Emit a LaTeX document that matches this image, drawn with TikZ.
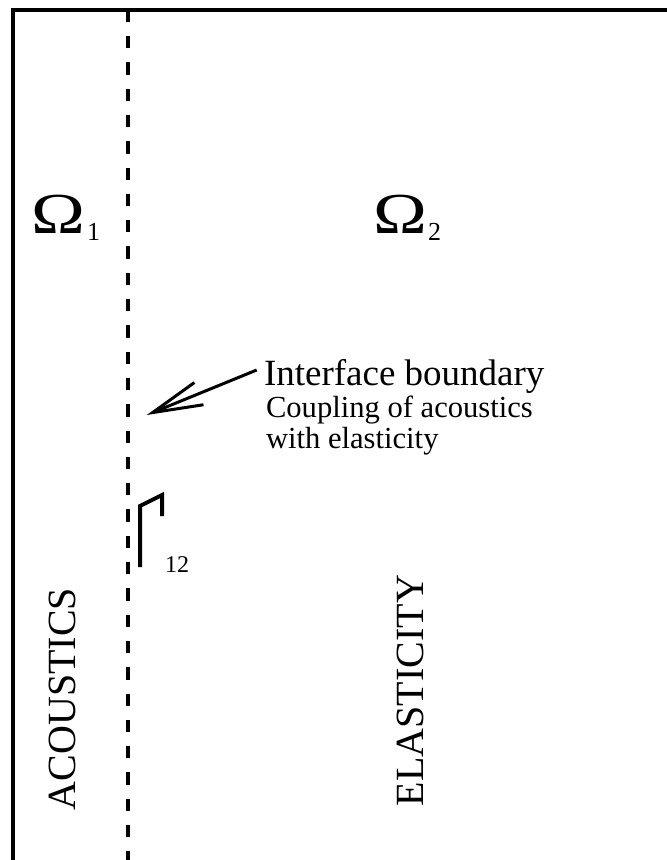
\documentclass[tikz,border=0pt]{standalone}
\usepackage{fontspec}
\setmainfont{Liberation Serif}
\usetikzlibrary{arrows.meta}
\tikzset{
  frame/.style={line width=4pt, line join=miter},
  iface/.style={line width=4pt, dash pattern=on 12.3pt off 14pt},
  gammaline/.style={line width=4pt, line join=miter},
  pointer/.style={line width=3pt, -{Straight Barb[length=50pt,width=24pt]}},
  txt/.style={inner sep=0pt, outer sep=0pt, anchor=base west},
  omega/.style={txt, xscale=1.25},
}
\newcommand{\fsz}[1]{\fontsize{#1}{#1}\selectfont}
\begin{document}
\begin{tikzpicture}[x=1pt,y=-1pt]
\useasboundingbox (0,0) rectangle (667,860);
% frame (left and top edges visible)
\draw[frame] (13,860) -- (13,10) -- (667,10);
% interface line
\coordinate (itop) at (128,9.7);
\coordinate (ibot) at (128,860);
\draw[iface] (itop) -- (ibot);
% domain labels
\node[omega] (om1) at (31,233) {\fsz{58}Ω};
\node[txt] (om1s) at (87,240) {\fsz{26}1};
\node[omega] (om2) at (373,233) {\fsz{58}Ω};
\node[txt] (om2s) at (428,240) {\fsz{26}2};
% interface annotation
\node[txt] (ifb) at (264,385) {\fsz{37}Interface boundary};
\node[txt] (cpl) at (266,417) {\fsz{30.6}Coupling of acoustics};
\node[txt] (wel) at (266,448) {\fsz{30.6}with elasticity};
\coordinate (astart) at (256.7,370);
\coordinate (atip) at (146.7,415);
\draw[pointer] (astart) -- (atip);
% Gamma_12
\draw[gammaline] (140,567) -- (140,506) -- (162,495) -- (162,516);
\node[txt] (g12) at (165,572) {\fsz{24}12};
% rotated labels
\node[txt, rotate=90] (ac) at (75,810) {\fsz{40}ACOUSTICS};
\node[txt, rotate=90] (el) at (423,806) {\fsz{40}ELASTICITY};
\end{tikzpicture}
\end{document}
